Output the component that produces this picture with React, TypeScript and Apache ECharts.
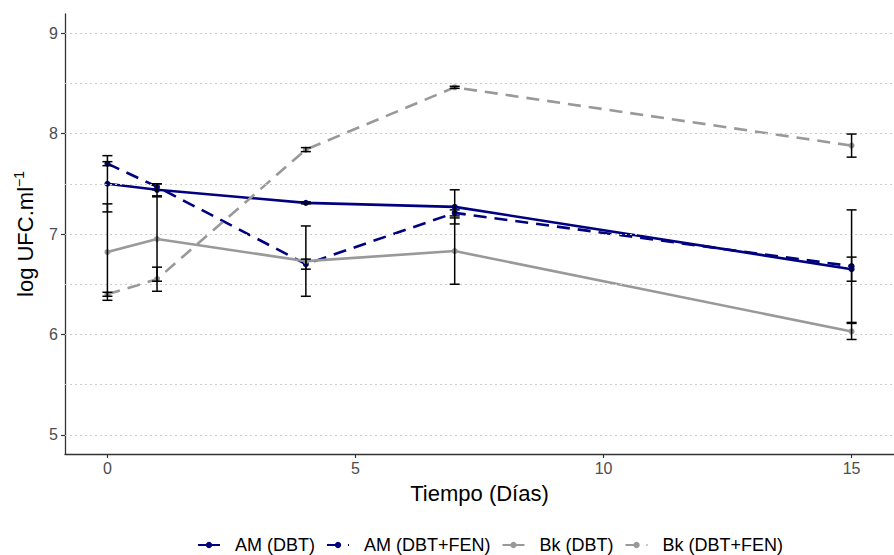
import React, { useEffect, useRef } from "react";
import * as echarts from "echarts";

const days = [0, 1, 4, 7, 15];

const amDbt = [7.5, 7.44, 7.31, 7.27, 6.65];
const amDbtSd = [0.28, 0.06, 0.01, 0.17, 0.12];
const amFen = [7.7, 7.47, 6.7, 7.21, 6.68];
const amFenSd = [0.02, 0.03, 0.05, 0.03, 0.56];
const bkDbt = [6.82, 6.95, 6.73, 6.83, 6.03];
const bkDbtSd = [0.48, 0.42, 0.35, 0.33, 0.08];
const bkFen = [6.4, 6.55, 7.84, 8.46, 7.88];
const bkFenSd = [0.02, 0.12, 0.02, 0.01, 0.115];

const xTicks = [0, 5, 10, 15];
const yTicks = [5, 6, 7, 8, 9];
const gridValues = [5, 5.5, 6, 6.5, 7, 7.5, 8, 8.5, 9];

const names = ["AM (DBT)", "AM (DBT+FEN)", "Bk (DBT)", "Bk (DBT+FEN)"];

export default function App() {
  const ref = useRef<HTMLDivElement>(null);
  useEffect(() => {
    document.body.style.margin = "0";
    const chart = echarts.init(ref.current!, null, { renderer: "svg" });
    const navy = "#000080";
    const grey = "#999999";
    const font = "Liberation Sans, Arial, sans-serif";

    const mk = (name: string, vals: number[], color: string, dashed: boolean) => ({
      type: "line",
      name,
      data: days.map((d, i) => [d, vals[i]]),
      symbol: "circle",
      symbolSize: 6,
      itemStyle: { color },
      lineStyle: { color, width: 2.6, type: dashed ? [13, 8] : "solid" },
      z: 3,
    });

    const errData: number[][] = [];
    const addErr = (vals: number[], sd: number[]) =>
      days.forEach((d, i) => errData.push([d, vals[i] - sd[i], vals[i] + sd[i]]));
    addErr(amDbt, amDbtSd);
    addErr(amFen, amFenSd);
    addErr(bkDbt, bkDbtSd);
    addErr(bkFen, bkFenSd);

    chart.setOption({
      animation: false,
      textStyle: { fontFamily: font },
      grid: { left: 65, top: 14, width: 841, height: 440, containLabel: false },
      xAxis: {
        type: "value",
        min: -0.855,
        max: 15.855,
        name: "Tiempo (Días)",
        nameLocation: "middle",
        nameGap: 28,
        nameTextStyle: { fontSize: 22, color: "#000", fontFamily: font },
        axisLine: { show: true, onZero: false, lineStyle: { color: "#333", width: 1.3 } },
        axisTick: { show: true, customValues: xTicks, length: 4, lineStyle: { color: "#333", width: 1.2 } },
        axisLabel: { customValues: xTicks, fontSize: 16, color: "#4d4d4d", margin: 6, fontFamily: font },
        splitLine: { show: false },
      },
      yAxis: {
        type: "value",
        min: 4.81,
        max: 9.19,
        name: "log UFC.ml{sup|−1}",
        nameLocation: "middle",
        nameGap: 27,
        nameRotate: 90,
        nameTextStyle: {
          fontSize: 22,
          color: "#000",
          fontFamily: font,
          rich: {
            sup: { fontSize: 14, padding: [0, 0, 12, 0], color: "#000", fontFamily: font },
          },
        },
        axisLine: { show: true, onZero: false, lineStyle: { color: "#333", width: 1.3 } },
        axisTick: { show: true, customValues: yTicks, length: 4, lineStyle: { color: "#333", width: 1.2 } },
        axisLabel: { customValues: yTicks, fontSize: 16, color: "#4d4d4d", margin: 7, fontFamily: font },
        splitLine: { show: false },
      },
      legend: {
        data: names,
        left: 192,
        top: 531,
        itemWidth: 22,
        itemHeight: 8,
        itemGap: 11,
        textStyle: { fontSize: 18, color: "#000", padding: [0, 0, 0, 10], fontFamily: font },
      },
      series: [
        {
          type: "line",
          name: "grid",
          data: [],
          silent: true,
          z: 1,
          markLine: {
            silent: true,
            symbol: "none",
            label: { show: false },
            lineStyle: { color: "#cccccc", width: 1, type: [2, 3] },
            data: gridValues.map((v) => ({ yAxis: v })),
          },
        },
        mk(names[0], amDbt, navy, false),
        mk(names[1], amFen, navy, true),
        mk(names[2], bkDbt, grey, false),
        mk(names[3], bkFen, grey, true),
        {
          type: "custom",
          name: "err",
          z: 5,
          data: errData,
          renderItem: (params: any, api: any) => {
            const x = api.value(0);
            const lo = api.coord([x, api.value(1)]);
            const hi = api.coord([x, api.value(2)]);
            const w = 5;
            const st = { stroke: "#000", lineWidth: 1.5 };
            return {
              type: "group",
              children: [
                { type: "line", shape: { x1: lo[0], y1: lo[1], x2: hi[0], y2: hi[1] }, style: st },
                { type: "line", shape: { x1: lo[0] - w, y1: lo[1], x2: lo[0] + w, y2: lo[1] }, style: st },
                { type: "line", shape: { x1: hi[0] - w, y1: hi[1], x2: hi[0] + w, y2: hi[1] }, style: st },
              ],
            };
          },
        },
      ],
    });
    return () => chart.dispose();
  }, []);
  return <div ref={ref} style={{ width: 894, height: 555 }} />;
}
